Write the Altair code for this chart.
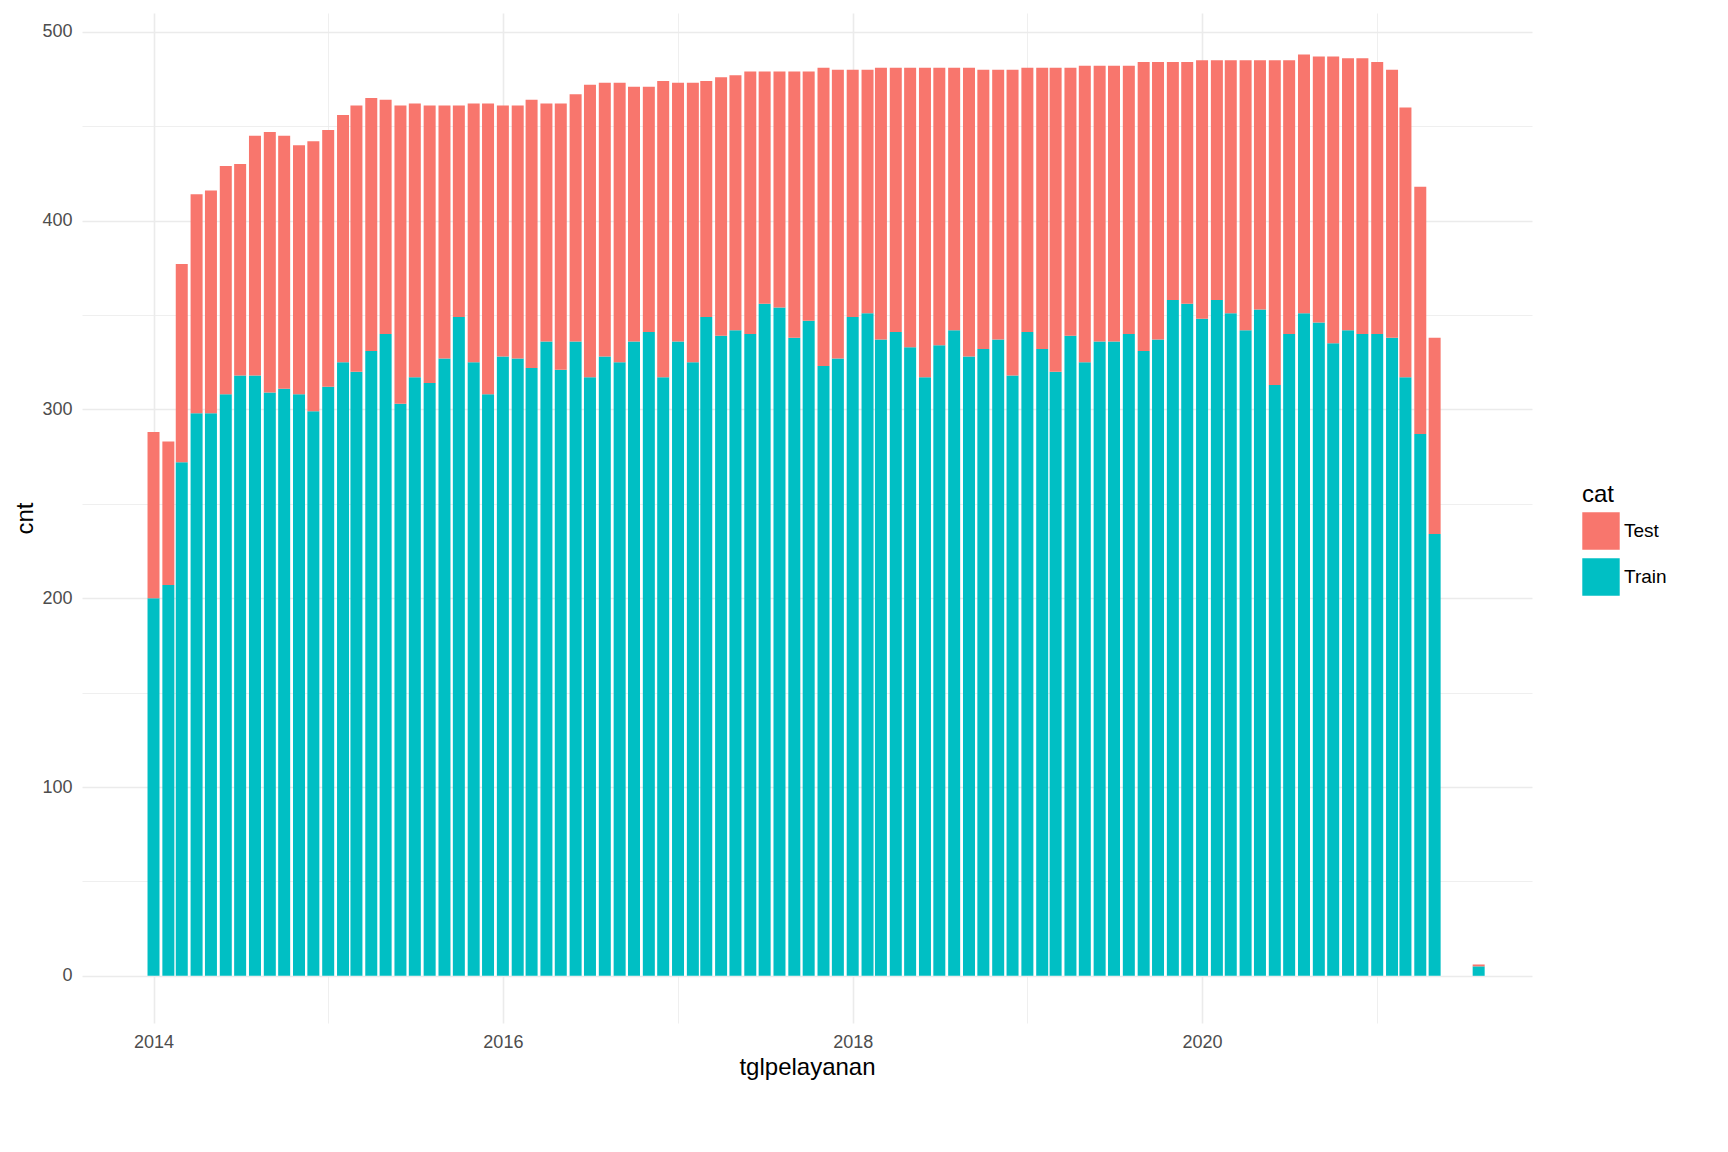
import pandas as pd
import altair as alt

totals = [288, 283, 377, 414, 416, 429, 430, 445, 447, 445, 440, 442,
          448, 456, 461, 465, 464, 461, 462, 461, 461, 461, 462, 462,
          461, 461, 464, 462, 462, 467, 472, 473, 473, 471, 471, 474,
          473, 473, 474, 476, 477, 479, 479, 479, 479, 479, 481, 480,
          480, 480, 481, 481, 481, 481, 481, 481, 481, 480, 480, 480,
          481, 481, 481, 481, 482, 482, 482, 482, 484, 484, 484, 484,
          485, 485, 485, 485, 485, 485, 485, 488, 487, 487, 486, 486,
          484, 480, 460, 418, 338]
train = [200, 207, 272, 298, 298, 308, 318, 318, 309, 311, 308, 299,
         312, 325, 320, 331, 340, 303, 317, 314, 327, 349, 325, 308,
         328, 327, 322, 336, 321, 336, 317, 328, 325, 336, 341, 317,
         336, 325, 349, 339, 342, 340, 356, 354, 338, 347, 323, 327,
         349, 351, 337, 341, 333, 317, 334, 342, 328, 332, 337, 318,
         341, 332, 320, 339, 325, 336, 336, 340, 331, 337, 358, 356,
         348, 358, 351, 342, 353, 313, 340, 351, 346, 335, 342, 340,
         340, 338, 317, 287, 234]
months = list(pd.date_range("2014-01-01", periods=len(totals), freq="MS").strftime("%Y-%m-%d"))
# a last, almost empty month
months.append("2021-08-01")
totals.append(6)
train.append(5)

rows = []
for m, t, tr in zip(months, totals, train):
    rows.append({"tglpelayanan": m, "cat": "Train", "cnt": tr, "ord": 0})
    rows.append({"tglpelayanan": m, "cat": "Test", "cnt": t - tr, "ord": 1})
df = pd.DataFrame(rows)

chart = alt.Chart(df).mark_bar(width=12).encode(
    x=alt.X("tglpelayanan:T", title="tglpelayanan",
            scale=alt.Scale(domain=["2013-08-15", "2021-11-10"]),
            axis=alt.Axis(values=[f"{y}-01-01" for y in range(2014, 2022)],
                          labelExpr="year(datum.value) % 2 == 0 ? timeFormat(datum.value, '%Y') : ''",
                          gridWidth={"condition": {"test": "year(datum.value) % 2 == 0", "value": 1.6}, "value": 0.8})),
    y=alt.Y("cnt:Q", title="cnt", stack="zero",
            scale=alt.Scale(domain=[-25, 510], nice=False),
            axis=alt.Axis(values=list(range(0, 501, 50)),
                          labelExpr="datum.value % 100 == 0 ? datum.label : ''",
                          gridWidth={"condition": {"test": "datum.value % 100 == 0", "value": 1.6}, "value": 0.8})),
    color=alt.Color("cat:N", title="cat",
                    scale=alt.Scale(domain=["Test", "Train"], range=["#F8766D", "#00BFC4"]),
                    legend=alt.Legend(symbolType="square", symbolSize=1400, symbolStrokeWidth=0,
                                      titleFontSize=24, labelFontSize=19, titleFontWeight="normal",
                                      rowPadding=8, orient="none", legendX=1500, legendY=470)),
    order=alt.Order("ord:Q", sort="ascending"),
).properties(
    width=1450, height=1010
).configure_view(stroke=None).configure_axis(
    domain=False, ticks=False, gridColor="#EBEBEB", labelColor="#4D4D4D",
    labelFontSize=18, titleFontSize=24, titleFontWeight="normal",
    labelFont="Liberation Sans", titleFont="Liberation Sans", labelPadding=10
).configure_legend(labelFont="Liberation Sans", titleFont="Liberation Sans")

chart.save("out.html", embed_options={"renderer": "svg", "actions": False})
